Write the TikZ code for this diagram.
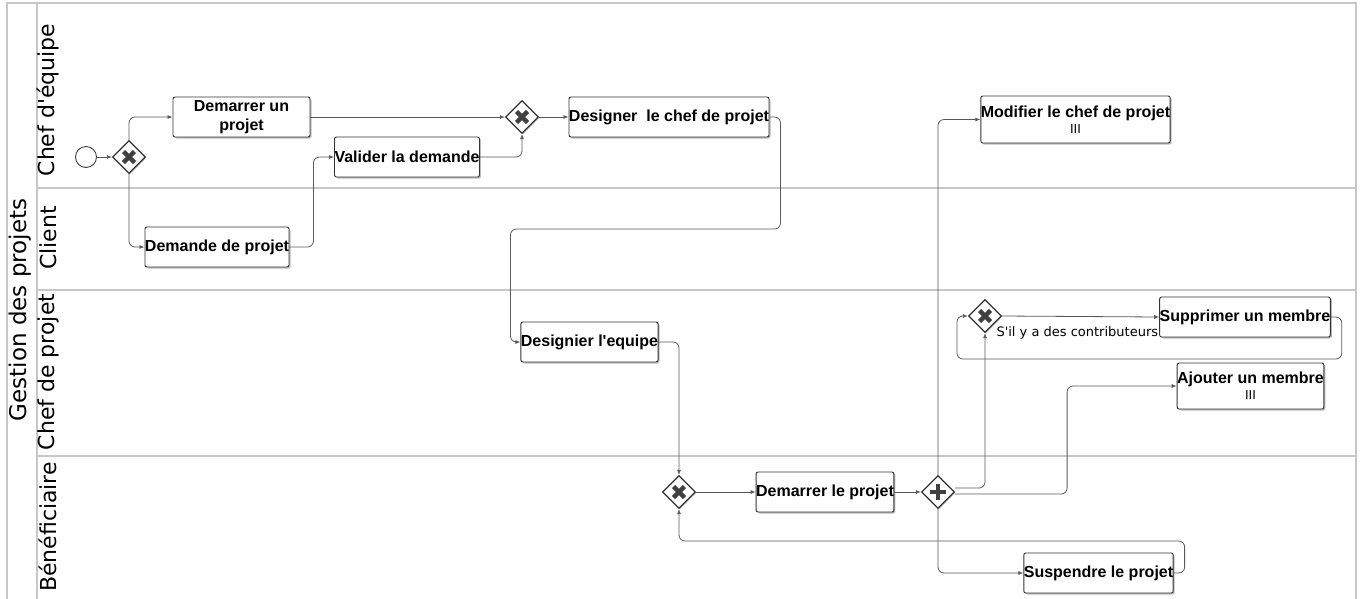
\documentclass[tikz,border=0pt]{standalone}
\usepackage{fontspec}
\setmainfont{Liberation Sans}
\newfontfamily\taskfont{Liberation Sans}
\newfontfamily\dejavu{DejaVu Sans}
\newcommand\taskmarker{{\taskfont\mdseries\fontsize{13}{13}\selectfont III}}
\usetikzlibrary{arrows.meta,shapes.geometric,shadows}

\begin{document}
\begin{tikzpicture}[x=1pt,y=-1pt,
  lane/.style={draw=black!22,line width=1.2pt},
  lanelabel/.style={rotate=90,font=\dejavu\fontsize{22}{22}\selectfont,inner sep=0},
  task/.style={draw=black!80,line width=0.9pt,fill=white,rounded corners=2pt,
    drop shadow={shadow xshift=1.5pt,shadow yshift=-1.5pt,fill=black!45,opacity=0.6},
    font=\taskfont\fontsize{16}{19}\selectfont\bfseries,align=center,inner sep=0},
  gate/.style={diamond,draw=black!80,line width=1.2pt,fill=white,inner sep=0,
    minimum width=33pt,minimum height=33pt,
    drop shadow={shadow xshift=1pt,shadow yshift=-1pt,fill=black!45,opacity=0.5}},
  xgate/.style={gate,path picture={
    \draw[black!75,line width=4.5pt]
      ([shift={(-5.5pt,-5.5pt)}]path picture bounding box.center) -- ([shift={(5.5pt,5.5pt)}]path picture bounding box.center)
      ([shift={(-5.5pt,5.5pt)}]path picture bounding box.center) -- ([shift={(5.5pt,-5.5pt)}]path picture bounding box.center);}},
  pgate/.style={gate,path picture={
    \draw[black!75,line width=4.5pt]
      ([xshift=-8pt]path picture bounding box.center) -- ([xshift=8pt]path picture bounding box.center)
      ([yshift=-8pt]path picture bounding box.center) -- ([yshift=8pt]path picture bounding box.center);}},
  flow/.style={draw=black!65,line width=0.8pt,rounded corners=6pt,-{Latex[length=5pt,width=4pt]}},
  cond/.style={font=\dejavu\fontsize{13}{13}\selectfont,inner sep=0},
]
  \useasboundingbox (0,0) rectangle (1363,598);

  % pool and lanes
  \draw[lane] (7,600) -- (7,3) -- (1356,3) -- (1356,600);
  \draw[lane] (37,3) -- (37,600);
  \foreach \y in {188,290,456}{
    \draw[lane] (37,\y) -- (1356,\y);
  }
  \node[lanelabel,font=\dejavu\fontsize{23}{23}\selectfont] (pool) at (20,310) {Gestion des projets};
  \node[lanelabel] (chefeq) at (48,100) {Chef d'équipe};
  \node[lanelabel] (client) at (48,238) {Client};
  \node[lanelabel] (chefpr) at (48,372) {Chef de projet};
  \node[lanelabel] (benef) at (48,527) {Bénéficiaire};

  % events and gateways
  \node[circle,draw=black!75,line width=0.9pt,fill=white,minimum size=21pt,inner sep=0] (start) at (86,157) {};
  \node[xgate] (g1) at (129,157) {};
  \node[xgate] (g2) at (522,117) {};
  \node[xgate] (g3) at (679,492) {};
  \node[pgate] (g4) at (938,492) {};
  \node[xgate] (g5) at (985,316) {};

  % tasks
  \node[task,minimum width=137pt,minimum height=40pt] (demarrer) at (241.5,117) {Demarrer un\\projet};
  \node[task,minimum width=141pt,minimum height=40pt] (demande) at (217,247) {Demande de projet};
  \node[task,minimum width=142pt,minimum height=40pt] (valider) at (407,157) {Valider la demande};
  \node[task,minimum width=198pt,minimum height=40pt] (designer) at (669,117) {Designer~ le chef de projet};
  \node[task,minimum width=187pt,minimum height=47pt] (modifier) at (1075.5,119.5)
    {Modifier le chef de projet\\[-3pt]\taskmarker};
  \node[task,minimum width=137pt,minimum height=40pt] (equipe) at (589.5,342) {Designier l'equipe};
  \node[task,minimum width=134pt,minimum height=40pt] (lancer) at (825,492) {Demarrer le projet};
  \node[task,minimum width=168pt,minimum height=40pt] (supprimer) at (1245,317) {Supprimer un membre};
  \node[task,minimum width=145pt,minimum height=46pt] (ajouter) at (1250.5,386)
    {Ajouter un membre\\[-3pt]\taskmarker};
  \node[task,minimum width=149pt,minimum height=40pt] (suspendre) at (1098.5,573) {Suspendre le projet};

  % sequence flows
  \draw[flow] (start) -- (g1);
  \draw[flow] (g1.north) |- (demarrer.west);
  \draw[flow] (g1.south) |- (demande.west);
  \draw[flow] (demande.east) -- ++(24,0) |- (valider.west);
  \draw[flow] (demarrer.east) -- (g2.west);
  \draw[flow] (valider.east) -| (g2.south);
  \draw[flow] (g2.east) -- (designer.west);
  \draw[flow] (designer.east) -- ++(11,0) -- ++(0,112) -| ([xshift=-10pt]equipe.west) -- (equipe.west);
  \draw[flow] (equipe.east) -| (g3.north);
  \draw[flow] (g3.east) -- (lancer.west);
  \draw[flow] (lancer.east) -- (g4.west);
  \draw[flow] (g4.north) |- (modifier.west);
  \draw[flow] ([yshift=4pt]g4.east) -| (g5.south);
  \draw[flow] ([yshift=-2pt]g4.east) -- ++(112,0) |- (ajouter.west);
  \draw[flow] (g5.east) -- node[cond,pos=0,anchor=west,xshift=-6pt,yshift=-17pt] (contrib) {S'il y a des contributeurs} (supprimer.west);
  \draw[flow] (supprimer.east) -- ++(11,0) -- ++(0,42) -| ([xshift=-11pt]g5.west) -- (g5.west);
  \draw[flow] (g4.south) |- (suspendre.west);
  \draw[flow] (suspendre.east) -- ++(11,0) -- ++(0,-32) -| (g3.south);
\end{tikzpicture}
\end{document}
